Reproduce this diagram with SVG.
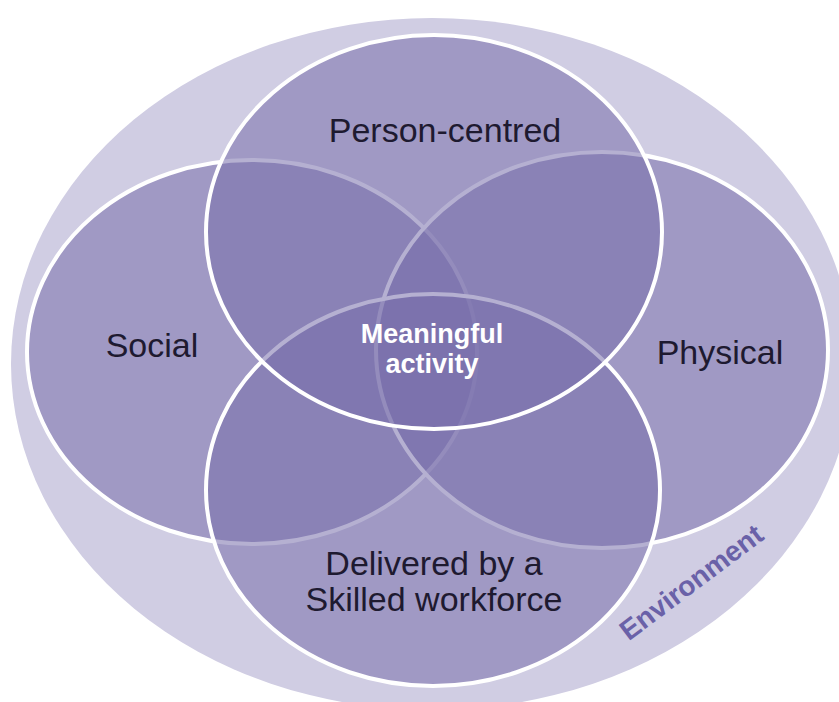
<svg xmlns="http://www.w3.org/2000/svg" width="839" height="702" viewBox="0 0 839 702">
  <style>
    .ring { fill: #d0cde3; }
    .set { fill: #7970ab; fill-opacity: 0.55; stroke: #ffffff; stroke-width: 4; }
    .label { font-family: "Liberation Sans", Arial, sans-serif; font-size: 34px; fill: #1e1a30; text-anchor: middle; }
    .core { font-family: "Liberation Sans", Arial, sans-serif; font-size: 27px; font-weight: bold; fill: #ffffff; text-anchor: middle; }
    .env { font-family: "Liberation Sans", Arial, sans-serif; font-size: 28px; font-weight: bold; fill: #6a61a8; text-anchor: middle; }
  </style>
  <rect width="839" height="702" fill="#ffffff"/>

  <!-- surrounding environment -->
  <g id="environment">
    <ellipse class="ring" cx="432" cy="364" rx="421" ry="346"/>
    <text class="env" transform="translate(697,590) rotate(-37)">Environment</text>
  </g>

  <!-- overlapping sets, drawn back to front -->
  <g id="social">
    <ellipse class="set" cx="252" cy="352" rx="225" ry="192"/>
    <text class="label" x="152" y="357">Social</text>
  </g>
  <g id="physical">
    <ellipse class="set" cx="602" cy="350" rx="226" ry="198"/>
    <text class="label" x="720" y="364">Physical</text>
  </g>
  <g id="skilled-workforce">
    <ellipse class="set" cx="433" cy="490" rx="227" ry="196"/>
    <text class="label" x="434" y="575">Delivered by a</text>
    <text class="label" x="434" y="611">Skilled workforce</text>
  </g>
  <g id="person-centred">
    <ellipse class="set" cx="434" cy="232" rx="228" ry="197"/>
    <text class="label" x="445" y="142">Person-centred</text>
  </g>

  <!-- shared centre -->
  <g id="meaningful-activity">
    <text class="core" x="432" y="343">Meaningful</text>
    <text class="core" x="432" y="373">activity</text>
  </g>
</svg>
